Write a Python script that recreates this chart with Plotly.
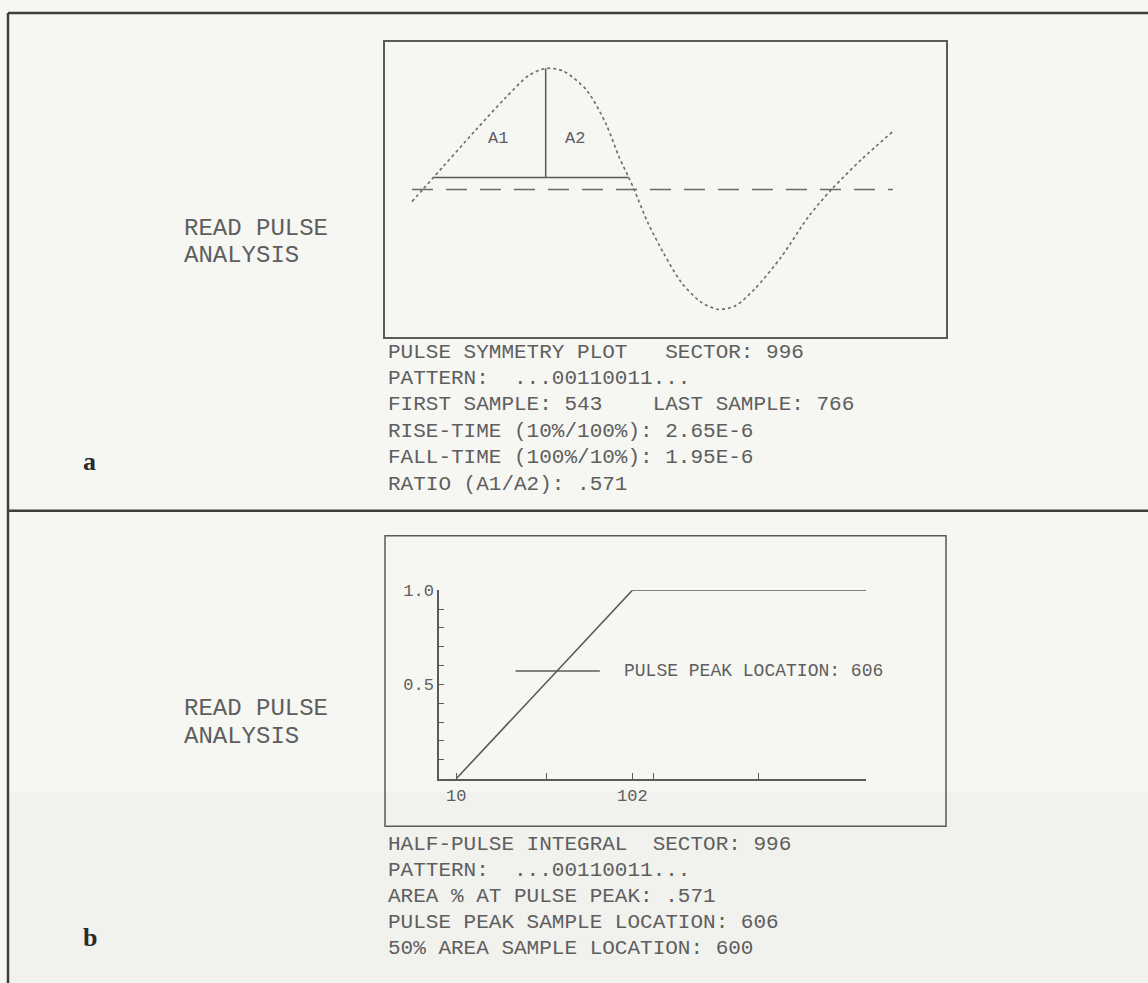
import plotly.graph_objects as go

W, H = 1148, 983
BG = "#f6f6f3"
INK = "#5e5e5e"
FRAME = "#3f3f3f"
MONO = "Liberation Mono, DejaVu Sans Mono, monospace"

# --- panel a: pulse symmetry plot (sample number vs. normalised amplitude)
WAVE_SAMPLES = [543, 548, 553, 572.5, 586.5, 597, 605, 613, 624, 633, 639, 643.5, 646,
                652.5, 659.5, 668, 677, 685, 693, 702, 714.5, 727, 737.5, 751.5, 766]
WAVE_AMPL = [-0.10, 0.0, 0.10, 0.49, 0.76, 0.94, 1.0, 0.98, 0.82, 0.54, 0.27, 0.10, 0.0,
             -0.28, -0.52, -0.77, -0.93, -0.99, -0.96, -0.82, -0.55, -0.22, 0.0, 0.25, 0.48]
FIRST_SAMPLE, LAST_SAMPLE = 543, 766
PEAK_SAMPLE = 605
TEN_PCT = 0.10
A1_START, A2_END = 553, 643.5
AREA_LABELS = ["A1", "A2"]
AREA_LABEL_X = [583, 618.5]
AREA_LABEL_Y = 0.42

TEXT_A = [
    "PULSE SYMMETRY PLOT\u00a0\u00a0\u00a0SECTOR: 996",
    "PATTERN:\u00a0\u00a0...00110011...",
    "FIRST SAMPLE: 543\u00a0\u00a0\u00a0\u00a0LAST SAMPLE: 766",
    "RISE-TIME (10%/100%): 2.65E-6",
    "FALL-TIME (100%/10%): 1.95E-6",
    "RATIO (A1/A2): .571",
]

# --- panel b: half-pulse integral (sample offset vs. cumulative area)
INT_X = [10, 41, 63, 102, 224]
INT_Y = [0.0, 0.335, 0.575, 1.0, 1.0]
PEAK_AREA = 0.571
PEAK_MARK_X = [41, 85]
X_TICKS = [10, 57, 102, 113, 168]
X_TICKTEXT = ["10", "", "102", "", ""]
Y_TICKS = [0.1, 0.2, 0.3, 0.4, 0.5, 0.6, 0.7, 0.8, 0.9, 1.0]
Y_TICKTEXT = ["", "", "", "", "0.5", "", "", "", "", "1.0"]

TEXT_B = [
    "HALF-PULSE INTEGRAL\u00a0\u00a0SECTOR: 996",
    "PATTERN:\u00a0\u00a0...00110011...",
    "AREA % AT PULSE PEAK: .571",
    "PULSE PEAK SAMPLE LOCATION: 606",
    "50% AREA SAMPLE LOCATION: 600",
]


def px(x):
    return x / W


def py(y):
    return 1 - y / H


fig = go.Figure()

# panel a traces
fig.add_trace(go.Scatter(
    x=WAVE_SAMPLES, y=WAVE_AMPL, mode="lines", xaxis="x", yaxis="y",
    line=dict(color="#6a6a6a", width=1.6, dash="dot", shape="spline", smoothing=0.8),
    hoverinfo="skip"))
fig.add_trace(go.Scatter(
    x=[FIRST_SAMPLE, LAST_SAMPLE], y=[0, 0], mode="lines", xaxis="x", yaxis="y",
    line=dict(color="#6a6a6a", width=1.6, dash="21px,13px"), hoverinfo="skip"))
fig.add_trace(go.Scatter(
    x=[A1_START, A2_END, None, PEAK_SAMPLE, PEAK_SAMPLE],
    y=[TEN_PCT, TEN_PCT, None, TEN_PCT, 1.0], mode="lines", xaxis="x", yaxis="y",
    line=dict(color="#5a5a5a", width=1.5), hoverinfo="skip"))

# panel b traces
fig.add_trace(go.Scatter(
    x=INT_X, y=INT_Y, mode="lines", xaxis="x2", yaxis="y2",
    line=dict(color="#5a5a5a", width=1.6), hoverinfo="skip", cliponaxis=False))
fig.add_trace(go.Scatter(
    x=PEAK_MARK_X, y=[PEAK_AREA, PEAK_AREA], mode="lines", xaxis="x2", yaxis="y2",
    line=dict(color="#5a5a5a", width=1.5), hoverinfo="skip"))

ann = []
for lbl, xv in zip(AREA_LABELS, AREA_LABEL_X):
    ann.append(dict(x=xv, y=AREA_LABEL_Y, xref="x", yref="y", text=lbl, showarrow=False,
                    font=dict(family=MONO, size=17, color=INK)))
ann.append(dict(x=96.5, y=PEAK_AREA, xref="x2", yref="y2", xanchor="left",
                text="PULSE PEAK LOCATION: 606", showarrow=False,
                font=dict(family=MONO, size=18, color=INK)))

for i, line in enumerate(TEXT_A):
    ann.append(dict(x=px(386), y=py(347 + 26.6 * i), xref="paper", yref="paper",
                    xanchor="left", yanchor="middle", text=line, showarrow=False,
                    font=dict(family=MONO, size=21, color=INK)))
for i, line in enumerate(TEXT_B):
    ann.append(dict(x=px(386), y=py(843 + 26.3 * i), xref="paper", yref="paper",
                    xanchor="left", yanchor="middle", text=line, showarrow=False,
                    font=dict(family=MONO, size=21, color=INK)))

for top in (222, 706):
    for j, line in enumerate(["READ PULSE", "ANALYSIS"]):
        ann.append(dict(x=px(182), y=py(top + 28 * j), xref="paper", yref="paper",
                        xanchor="left", yanchor="middle", text=line, showarrow=False,
                        font=dict(family=MONO, size=24, color=INK)))

for lbl, yy in (("a", 457), ("b", 937)):
    ann.append(dict(x=px(81), y=py(yy), xref="paper", yref="paper", xanchor="left",
                    yanchor="middle", text=f"<b>{lbl}</b>", showarrow=False,
                    font=dict(family="Liberation Serif, serif", size=26, color="#2a2a2a")))

shapes = [
    # faint darker band of the scanned paper
    dict(type="rect", xref="paper", yref="paper", x0=px(8), x1=1, y0=0, y1=py(790),
         fillcolor="#f1f1ee", line=dict(width=0), layer="below"),
    dict(type="line", xref="paper", yref="paper", x0=px(8), x1=px(8), y0=0, y1=py(5),
         line=dict(color=FRAME, width=2.5)),
    dict(type="line", xref="paper", yref="paper", x0=px(8), x1=1, y0=py(5), y1=py(5),
         line=dict(color=FRAME, width=2.5)),
    dict(type="line", xref="paper", yref="paper", x0=px(8), x1=1, y0=py(507), y1=py(507),
         line=dict(color=FRAME, width=2.5)),
    dict(type="rect", xref="paper", yref="paper", x0=px(385), x1=px(946),
         y0=py(825), y1=py(532), line=dict(color="#5a5a5a", width=1.5)),
]

fig.update_layout(
    width=W, height=H,
    margin=dict(l=0, r=0, t=0, b=0),
    paper_bgcolor=BG, plot_bgcolor="rgba(0,0,0,0)",
    showlegend=False,
    annotations=ann, shapes=shapes,
    xaxis=dict(domain=[px(385), px(946)], range=[530.5, 790.6], anchor="y",
               showline=True, mirror=True, linecolor="#5a5a5a", linewidth=1.5,
               showgrid=False, zeroline=False, showticklabels=False, ticks=""),
    yaxis=dict(domain=[py(332), py(34)], range=[-1.221, 1.221], anchor="x",
               showline=True, mirror=True, linecolor="#5a5a5a", linewidth=1.5,
               showgrid=False, zeroline=False, showticklabels=False, ticks=""),
    xaxis2=dict(domain=[px(439), px(866)], range=[1, 224], anchor="y2",
                showline=True, linecolor="#5a5a5a", linewidth=1.5,
                showgrid=False, zeroline=False, ticks="inside", ticklen=6,
                tickwidth=1.2, tickcolor="#5a5a5a", tickmode="array",
                tickvals=X_TICKS, ticktext=X_TICKTEXT,
                tickfont=dict(family=MONO, size=17, color=INK)),
    yaxis2=dict(domain=[py(777), py(587)], range=[0, 1], anchor="x2",
                showline=True, linecolor="#5a5a5a", linewidth=1.5,
                showgrid=False, zeroline=False, ticks="inside", ticklen=5,
                tickwidth=1.2, tickcolor="#5a5a5a", tickmode="array",
                tickvals=Y_TICKS, ticktext=Y_TICKTEXT,
                tickfont=dict(family=MONO, size=17, color=INK)),
)

fig.write_html("out.html", config={"displayModeBar": False},
               post_script="document.body.style.margin='0';"
                           "document.body.style.overflow='hidden';")
